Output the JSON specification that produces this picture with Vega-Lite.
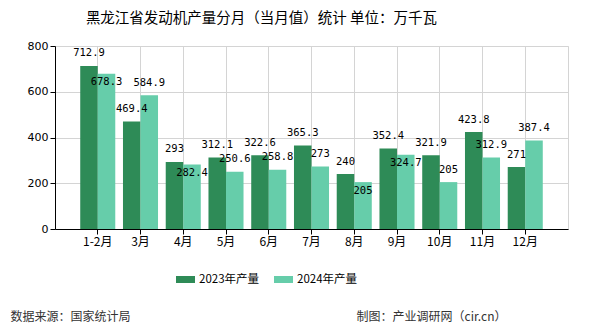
{
  "$schema": "https://vega.github.io/schema/vega-lite/v6.json",
  "autosize": "none",
  "width": 513,
  "height": 183,
  "padding": {"left": 55, "top": 46, "right": 22, "bottom": 101},
  "background": "white",
  "config": {
    "view": {"stroke": "#d4d4d4"},
    "font": "Noto Sans CJK SC"
  },
  "title": {
    "text": "黑龙江省发动机产量分月（当月值）统计 单位：万千瓦",
    "anchor": "middle",
    "dx": -50,
    "offset": 14,
    "fontSize": 14.5,
    "fontWeight": "normal",
    "font": "Noto Sans CJK SC",
    "color": "#000000"
  },
  "data": {
    "values": [
      {"month": "1-2月", "series": "2023年产量", "value": 712.9},
      {"month": "1-2月", "series": "2024年产量", "value": 678.3},
      {"month": "3月", "series": "2023年产量", "value": 469.4},
      {"month": "3月", "series": "2024年产量", "value": 584.9},
      {"month": "4月", "series": "2023年产量", "value": 293},
      {"month": "4月", "series": "2024年产量", "value": 282.4},
      {"month": "5月", "series": "2023年产量", "value": 312.1},
      {"month": "5月", "series": "2024年产量", "value": 250.6},
      {"month": "6月", "series": "2023年产量", "value": 322.6},
      {"month": "6月", "series": "2024年产量", "value": 258.8},
      {"month": "7月", "series": "2023年产量", "value": 365.3},
      {"month": "7月", "series": "2024年产量", "value": 273},
      {"month": "8月", "series": "2023年产量", "value": 240},
      {"month": "8月", "series": "2024年产量", "value": 205},
      {"month": "9月", "series": "2023年产量", "value": 352.4},
      {"month": "9月", "series": "2024年产量", "value": 324.7},
      {"month": "10月", "series": "2023年产量", "value": 321.9},
      {"month": "10月", "series": "2024年产量", "value": 205},
      {"month": "11月", "series": "2023年产量", "value": 423.8},
      {"month": "11月", "series": "2024年产量", "value": 312.9},
      {"month": "12月", "series": "2023年产量", "value": 271},
      {"month": "12月", "series": "2024年产量", "value": 387.4}
    ]
  },
  "encoding": {
    "x": {
      "field": "month",
      "type": "nominal",
      "sort": ["1-2月", "3月", "4月", "5月", "6月", "7月", "8月", "9月", "10月", "11月", "12月"],
      "scale": {"paddingInner": 0, "paddingOuter": 0.5},
      "axis": {
        "labelAngle": 0,
        "labelFontSize": 12,
        "labelColor": "#000000",
        "labelFont": "Noto Sans CJK SC",
        "domainColor": "#000000",
        "tickColor": "#000000",
        "tickSize": 5,
        "grid": true,
        "gridColor": "#d4d4d4",
        "bandPosition": 0.5,
        "title": "数据来源：国家统计局",
        "titleX": -45,
        "titleY": 87,
        "titleAlign": "left",
        "titleAnchor": null,
        "titleBaseline": "middle",
        "titleFontSize": 12,
        "titleFontWeight": "normal",
        "titleColor": "#333333",
        "titleFont": "Noto Sans CJK SC"
      }
    },
    "xOffset": {
      "field": "series",
      "type": "nominal",
      "scale": {"paddingInner": 0, "paddingOuter": 0.22}
    },
    "y": {
      "field": "value",
      "type": "quantitative",
      "scale": {"domain": [0, 800]},
      "axis": {
        "values": [0, 200, 400, 600, 800],
        "labelFontSize": 11,
        "labelColor": "#000000",
        "labelFont": "DejaVu Sans",
        "domainColor": "#000000",
        "tickColor": "#000000",
        "tickSize": 5,
        "gridColor": "#d4d4d4",
        "title": "制图：产业调研网（cir.cn）",
        "titleAngle": 0,
        "titleX": 451,
        "titleY": 270,
        "titleAlign": "right",
        "titleAnchor": null,
        "titleBaseline": "middle",
        "titleFontSize": 12,
        "titleFontWeight": "normal",
        "titleColor": "#333333",
        "titleFont": "Noto Sans CJK SC"
      }
    }
  },
  "layer": [
    {
      "mark": {"type": "bar"},
      "encoding": {
        "color": {
          "field": "series",
          "type": "nominal",
          "scale": {"range": ["#2e8b57", "#66cdaa"]},
          "legend": {
            "orient": "none",
            "legendX": 121,
            "legendY": 224,
            "direction": "horizontal",
            "title": null,
            "symbolType": "M-1,-0.37H1V0.37H-1Z",
            "symbolSize": 361,
            "symbolStrokeWidth": 0,
            "labelFontSize": 11.5,
            "labelColor": "#000000",
            "labelFont": "Noto Sans CJK SC",
            "labelOffset": 4,
            "columnPadding": 14
          }
        }
      }
    },
    {
      "transform": [
        {"filter": "!((datum.month == '1-2月' && datum.series == '2024年产量') || (datum.month == '4月' && datum.series == '2024年产量') || (datum.month == '8月' && datum.series == '2024年产量') || (datum.month == '9月' && datum.series == '2024年产量'))"}
      ],
      "mark": {"type": "text", "baseline": "middle", "dy": -12.5, "fontSize": 10.5, "font": "DejaVu Sans Mono", "color": "#000000"},
      "encoding": {
        "text": {"field": "value", "type": "quantitative"}
      }
    },
    {
      "transform": [
        {"filter": "(datum.month == '1-2月' && datum.series == '2024年产量') || (datum.month == '4月' && datum.series == '2024年产量') || (datum.month == '8月' && datum.series == '2024年产量') || (datum.month == '9月' && datum.series == '2024年产量')"}
      ],
      "mark": {"type": "text", "baseline": "middle", "dy": 8.5, "fontSize": 10.5, "font": "DejaVu Sans Mono", "color": "#000000"},
      "encoding": {
        "text": {"field": "value", "type": "quantitative"}
      }
    }
  ]
}
